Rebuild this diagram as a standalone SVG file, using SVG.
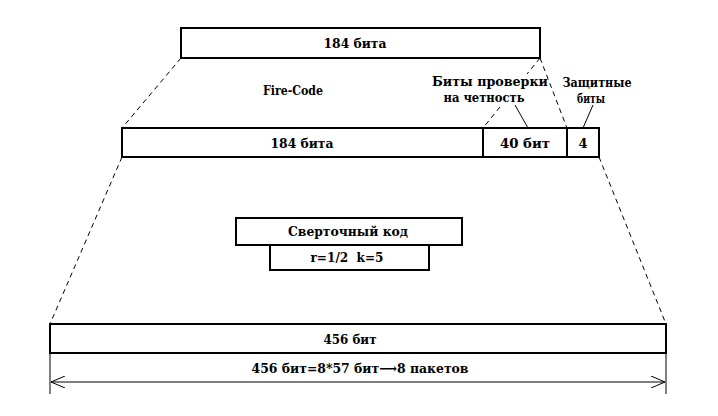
<svg xmlns="http://www.w3.org/2000/svg" width="718" height="416" viewBox="0 0 718 416">
<style>
.box{fill:#fff;stroke:#000;stroke-width:2}
.dash{stroke:#000;stroke-width:1;stroke-dasharray:5 4;fill:none}
.thin{stroke:#000;stroke-width:1;fill:none}
text{font-family:"DejaVu Serif","Liberation Serif",serif;font-weight:bold;font-size:13px;fill:#000;text-anchor:middle}
</style>
<defs>
<marker id="ah" viewBox="0 0 14 12" refX="14" refY="6" markerWidth="14" markerHeight="12" markerUnits="userSpaceOnUse" orient="auto-start-reverse">
<path d="M0,0 L14,6 L0,12" fill="none" stroke="#000" stroke-width="1"/>
</marker>
</defs>
<rect width="718" height="416" fill="#fff"/>
<g id="connectors">
<line class="dash" x1="181" y1="58" x2="122" y2="128"/>
<line class="dash" x1="540" y1="58" x2="567" y2="128"/>
<line class="dash" x1="540" y1="58" x2="527" y2="74"/>
<line class="dash" x1="500" y1="107" x2="483" y2="128"/>
<line class="dash" x1="122" y1="157" x2="50" y2="324"/>
<line class="dash" x1="599" y1="157" x2="666" y2="324"/>
<line class="thin" x1="515" y1="105" x2="528" y2="128"/>
<line class="thin" x1="593" y1="105" x2="583" y2="128"/>
<line class="thin" x1="50" y1="353" x2="50" y2="394"/>
<line class="thin" x1="666" y1="353" x2="666" y2="394"/>
<line class="thin" x1="51" y1="382" x2="665" y2="382" marker-start="url(#ah)" marker-end="url(#ah)"/>
</g>
<g id="top-block">
<rect class="box" x="181" y="28" width="359" height="30"/>
<text x="355" y="48" textLength="63" lengthAdjust="spacingAndGlyphs">184 бита</text>
</g>
<g id="fire-code">
<text x="293" y="95" textLength="60" lengthAdjust="spacingAndGlyphs">Fire-Code</text>
</g>
<g id="parity-label">
<text x="490" y="86" textLength="116" lengthAdjust="spacingAndGlyphs">Биты проверки</text>
<text x="484" y="102" textLength="81" lengthAdjust="spacingAndGlyphs">на четность</text>
</g>
<g id="guard-label">
<text x="597" y="87" textLength="69" lengthAdjust="spacingAndGlyphs">Защитные</text>
<text x="591" y="103" textLength="28" lengthAdjust="spacingAndGlyphs">биты</text>
</g>
<g id="middle-block">
<rect class="box" x="122" y="128" width="477" height="29"/>
<line class="box" x1="483" y1="128" x2="483" y2="157"/>
<line class="box" x1="567" y1="128" x2="567" y2="157"/>
<text x="302" y="148" textLength="63" lengthAdjust="spacingAndGlyphs">184 бита</text>
<text x="525" y="148" textLength="50" lengthAdjust="spacingAndGlyphs">40 бит</text>
<text x="583" y="148">4</text>
</g>
<g id="conv-code">
<rect class="box" x="236" y="218" width="226" height="27"/>
<text x="348" y="236" textLength="120" lengthAdjust="spacingAndGlyphs">Сверточный код</text>
</g>
<g id="conv-params">
<rect class="box" x="270" y="245" width="159" height="25"/>
<text x="347" y="262" textLength="73" lengthAdjust="spacingAndGlyphs" xml:space="preserve">r=1/2  k=5</text>
</g>
<g id="bottom-block">
<rect class="box" x="50" y="324" width="616" height="29"/>
<text x="350" y="344" textLength="53" lengthAdjust="spacingAndGlyphs">456 бит</text>
</g>
<g id="dimension-label">
<text x="360" y="373" textLength="217" lengthAdjust="spacingAndGlyphs">456 бит=8*57 бит⟶8 пакетов</text>
</g>
</svg>
